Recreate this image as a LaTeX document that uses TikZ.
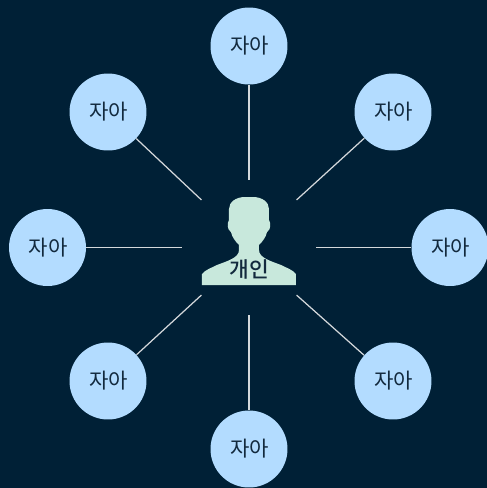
\documentclass[tikz,border=0pt]{standalone}
\usepackage{fontspec}
\usepackage{xcolor}
\newfontfamily\krfont{Noto Sans CJK KR}
\newfontfamily\krmedium{Noto Sans CJK KR Medium}
\definecolor{bgnavy}{HTML}{002036}
\definecolor{selfblue}{HTML}{B3DCFF}
\definecolor{personmint}{HTML}{C8E8DC}
\definecolor{labelink}{HTML}{12293D}
\definecolor{spokegrey}{HTML}{D4D8DB}

\begin{document}
\begin{tikzpicture}[x=0.02cm,y=-0.02cm,
    selfnode/.style={circle,fill=selfblue,text=labelink,minimum size=1.54cm,inner sep=0pt,font=\krfont\fontsize{12}{14}\selectfont},
    hubnode/.style={circle,minimum size=2.68cm,inner sep=0pt},
    spoke/.style={draw=spokegrey,line width=0.7pt}]
  % Background
  \fill[bgnavy] (0,0) rectangle (487,488);
  \useasboundingbox (0,0) rectangle (487,488);

  % Silhouette
  \fill[personmint] (202,285) -- (296,285) -- (296,274)
    .. controls (293,270) and (287,268) .. (281,265)
    .. controls (271,261) and (259,258) .. (259,250)
    -- (259,245)
    .. controls (263,241) and (266,237) .. (267,232)
    .. controls (271,230) and (271,223) .. (269,220)
    -- (269,209)
    .. controls (269,202) and (262,197) .. (253,197)
    -- (245,197)
    .. controls (236,197) and (229,202) .. (229,209)
    -- (229,220)
    .. controls (227,223) and (227,230) .. (231,232)
    .. controls (232,237) and (235,241) .. (239,245)
    -- (239,250)
    .. controls (239,258) and (227,261) .. (217,265)
    .. controls (211,268) and (205,270) .. (202,274)
    -- cycle;

  % Centre
  \node[hubnode] (hub) at (249,247.5) {};
  \node[text=labelink,font=\krmedium\fontsize{12.2}{14}\selectfont] (person) at (249.7,269) {개인};

  % Outer circles and spokes
  \foreach \nm/\px/\py/\ang in {top/249/46/90,upright/393/112/45,right/450/247.5/0,downright/393/381/-45,bottom/249/449/-90,downleft/108/381/-135,left/47.5/247.5/180,upleft/108/112/135}{
    \node[selfnode] (\nm) at (\px,\py) {\hspace{0.8pt}자아};
    \draw[spoke] (\nm) -- (hub.\ang);
  }
\end{tikzpicture}
\end{document}
